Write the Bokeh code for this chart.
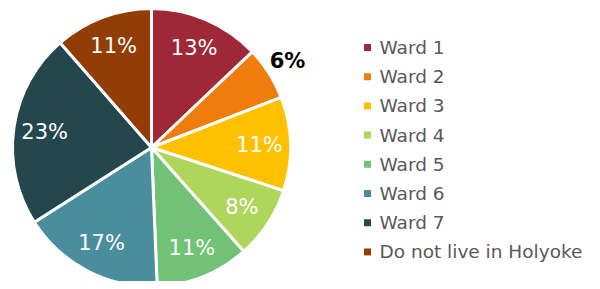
import math
from bokeh.plotting import figure
from bokeh.models import Range1d, ColumnDataSource
from bokeh.core.properties import value
from bokeh.embed import file_html
from bokeh.resources import INLINE

categories = ["Ward 1", "Ward 2", "Ward 3", "Ward 4", "Ward 5", "Ward 6", "Ward 7", "Do not live in Holyoke"]
shares = [12.9, 6.2, 10.9, 8.4, 10.9, 16.6, 22.6, 11.4]
colors = ["#9E2837", "#EE7D0C", "#FFC000", "#AED65A", "#71C277", "#4A8E9D", "#24474D", "#923D05"]

W, H = 592, 281
p = figure(width=W, height=H, output_backend="svg", toolbar_location=None,
           x_range=Range1d(0, 592), y_range=Range1d(8, 289),
           min_border=0, outline_line_color=None)
p.axis.visible = False
p.grid.visible = False
p.background_fill_color = "white"
p.border_fill_color = "white"

cx, cy, r = 151.0, 289 - 147.0, 139.0
total = sum(shares)
starts, ends, mids = [], [], []
cum = 0.0
for s in shares:
    a0 = math.pi / 2 - 2 * math.pi * cum / total
    cum += s
    a1 = math.pi / 2 - 2 * math.pi * cum / total
    starts.append(a0)
    ends.append(a1)
    mids.append((a0 + a1) / 2)

src = ColumnDataSource(dict(start=starts, end=ends, color=colors))
p.wedge(x=cx, y=cy, radius=r, start_angle="start", end_angle="end", direction="clock",
        fill_color="color", line_color="white", line_width=3, source=src)

labels = [f"{round(s)}%" for s in shares]
lx, ly, lc, lfs = [], [], [], []
for i, m in enumerate(mids):
    inside = shares[i] >= 7
    d = 108 if inside else 161
    lx.append(cx + d * math.cos(m))
    ly.append(cy + d * math.sin(m))
    lc.append("white" if inside else "black")
    lfs.append("normal" if inside else "bold")
p.text(x=lx, y=ly, text=labels, text_color=lc, text_font_style=lfs,
       text_font=value("DejaVu Sans"), text_font_size="21px",
       text_align="center", text_baseline="middle")

# legend
leg_y = [289 - (47 + i * 29.2) for i in range(len(categories))]
p.rect(x=[367] * len(categories), y=leg_y, width=7, height=7, fill_color=colors, line_color=None)
p.text(x=[379] * len(categories), y=leg_y, text=categories, text_color="#595959",
       text_font=value("DejaVu Sans"), text_font_size="18.5px", text_align="left", text_baseline="middle")

open("out.html", "w").write(file_html(p, INLINE))
